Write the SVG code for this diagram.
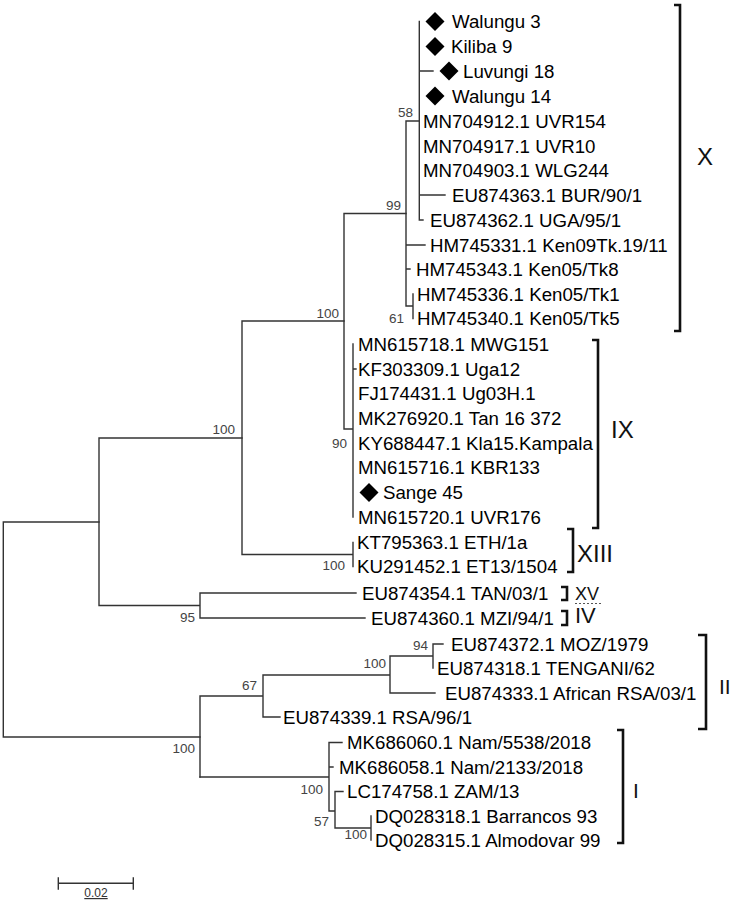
<svg xmlns="http://www.w3.org/2000/svg" width="733" height="904" viewBox="0 0 733 904">
<defs>
<style>
.br{fill:none;stroke:#333;stroke-width:1.4;stroke-linecap:square}
.lf{font-family:"Liberation Sans",Arial,sans-serif;font-size:18.7px;fill:#000}
.bs{font-family:"Liberation Sans",Arial,sans-serif;font-size:13.5px;fill:#444;text-anchor:end}
.cl{font-family:"Liberation Sans",Arial,sans-serif;fill:#111}
.bk{fill:none;stroke:#111;stroke-width:2.6}
.dm{fill:#000}
</style>
<path id="dia" d="M0,-9.5 L9.5,0 L0,9.5 L-9.5,0Z"/>
</defs>
<rect width="733" height="904" fill="#fff"/>

<g id="connectors" class="br">
<path d="M419.3,21.5 V220 H423 M419.3,71 H433 M419.3,195 H445 M406,121 H419.3 M406,121 V306 M406,245 H425 M406,269 H410 M406,306 H413 M413,294 V318.5"/>
<path d="M344,213.5 H406 M344,213.5 V429 H353 M353,344 V517 M353,369 H356"/>
<path d="M242,321 H344 M242,321 V554.5 H353 M353,542.5 V566.5"/>
<path d="M99,438 H242 M99,438 V605.5 H200 M200,593 V618 M200,593 H356 M200,618 H365"/>
<path d="M3.3,522 H99 M3.3,522 V737 H200"/>
<path d="M200,696 V777 M200,696 H263 M263,675 V717 H280 M263,675 H390 M390,656 V693 H435 M390,656 H433 M433,644 V668 M433,644 H443"/>
<path d="M200,777 H329 M329,742.5 V811 H335 M329,742.5 H342 M329,767 H333 M335,791.5 V828 M335,791.5 H343 M335,828 H371 M371,816 V840"/>
</g>

<g id="leaves" class="lf">
<g id="walungu3"><use href="#dia" x="435" y="21.5" class="dm"/><text x="452" y="28.3">Walungu 3</text></g>
<g id="kiliba9"><use href="#dia" x="435" y="46.5" class="dm"/><text x="451" y="53.3">Kiliba 9</text></g>
<g id="luvungi18"><use href="#dia" x="449" y="71" class="dm"/><text x="463" y="77.8">Luvungi 18</text></g>
<g id="walungu14"><use href="#dia" x="435" y="96" class="dm"/><text x="452" y="102.8">Walungu 14</text></g>
<g id="MN704912"><text x="423" y="127.8">MN704912.1 UVR154</text></g>
<g id="MN704917"><text x="423" y="152.8">MN704917.1 UVR10</text></g>
<g id="MN704903"><text x="423" y="177.3">MN704903.1 WLG244</text></g>
<g id="EU874363"><text x="452" y="201.8">EU874363.1 BUR/90/1</text></g>
<g id="EU874362"><text x="430" y="226.8">EU874362.1 UGA/95/1</text></g>
<g id="HM745331"><text x="430" y="251.8">HM745331.1 Ken09Tk.19/11</text></g>
<g id="HM745343"><text x="416" y="275.8">HM745343.1 Ken05/Tk8</text></g>
<g id="HM745336"><text x="417" y="300.8">HM745336.1 Ken05/Tk1</text></g>
<g id="HM745340"><text x="417" y="325.3">HM745340.1 Ken05/Tk5</text></g>
<g id="MN615718"><text x="358" y="350.8">MN615718.1 MWG151</text></g>
<g id="KF303309"><text x="358" y="375.8">KF303309.1 Uga12</text></g>
<g id="FJ174431"><text x="358" y="400.3">FJ174431.1 Ug03H.1</text></g>
<g id="MK276920"><text x="358" y="424.8">MK276920.1 Tan 16 372</text></g>
<g id="KY688447"><text x="358" y="449.8">KY688447.1 Kla15.Kampala</text></g>
<g id="MN615716"><text x="358" y="474.3">MN615716.1 KBR133</text></g>
<g id="sange45"><use href="#dia" x="369" y="492.5" class="dm"/><text x="383" y="499.3">Sange 45</text></g>
<g id="MN615720"><text x="358" y="523.8">MN615720.1 UVR176</text></g>
<g id="KT795363"><text x="357" y="549.3">KT795363.1 ETH/1a</text></g>
<g id="KU291452"><text x="357" y="573.3">KU291452.1 ET13/1504</text></g>
<g id="EU874354"><text x="362" y="599.8">EU874354.1 TAN/03/1</text></g>
<g id="EU874360"><text x="371" y="624.8">EU874360.1 MZI/94/1</text></g>
<g id="EU874372"><text x="451" y="650.8">EU874372.1 MOZ/1979</text></g>
<g id="EU874318"><text x="437" y="674.8">EU874318.1 TENGANI/62</text></g>
<g id="EU874333"><text x="445" y="699.8">EU874333.1 African RSA/03/1</text></g>
<g id="EU874339"><text x="283" y="723.8">EU874339.1 RSA/96/1</text></g>
<g id="MK686060"><text x="347" y="749.3">MK686060.1 Nam/5538/2018</text></g>
<g id="MK686058"><text x="339" y="773.8">MK686058.1 Nam/2133/2018</text></g>
<g id="LC174758"><text x="347" y="798.3">LC174758.1 ZAM/13</text></g>
<g id="DQ028318"><text x="375" y="822.8">DQ028318.1 Barrancos 93</text></g>
<g id="DQ028315"><text x="375" y="846.8">DQ028315.1 Almodovar 99</text></g>
</g>

<g id="bootstrap" class="bs">
<text x="413" y="117">58</text>
<text x="401" y="210">99</text>
<text x="404" y="323">61</text>
<text x="339" y="318">100</text>
<text x="347" y="448">90</text>
<text x="345" y="570">100</text>
<text x="235" y="434">100</text>
<text x="195" y="622">95</text>
<text x="257" y="690">67</text>
<text x="195" y="753">100</text>
<text x="386" y="668">100</text>
<text x="428" y="650">94</text>
<text x="323" y="794">100</text>
<text x="329" y="826">57</text>
<text x="367" y="839">100</text>
</g>

<g id="clade-X"><path class="bk" d="M674,5 H680 V331 H674"/><text class="cl" x="697" y="165" font-size="24">X</text></g>
<g id="clade-IX"><path class="bk" d="M592,340 H598 V528 H592"/><text class="cl" x="611" y="438" font-size="24">IX</text></g>
<g id="clade-XIII"><path class="bk" d="M567,529 H573 V572 H567"/><text class="cl" x="577" y="562" font-size="24">XIII</text></g>
<g id="clade-XV"><path class="bk" d="M561,587 H567 V600 H561" stroke-width="3"/><text class="cl" x="575" y="600" font-size="18">XV</text><path d="M575,603.5 H602" stroke="#555" stroke-width="1" stroke-dasharray="2,2"/></g>
<g id="clade-IV"><path class="bk" d="M561,611 H567 V625 H561" stroke-width="3"/><text class="cl" x="575" y="623" font-size="22">IV</text></g>
<g id="clade-II"><path class="bk" d="M698,635 H706 V729 H698"/><text class="cl" x="719" y="694" font-size="21">II</text></g>
<g id="clade-I"><path class="bk" d="M617,730 H623 V843 H617"/><text class="cl" x="633" y="798" font-size="21">I</text></g>

<g id="scalebar">
<path class="br" d="M58.3,883.3 H133.3 M58.3,878 V889 M133.3,878 V889"/>
<text x="96" y="897" text-anchor="middle" font-family="'Liberation Sans',Arial,sans-serif" font-size="12" fill="#333" text-decoration="underline">0.02</text>
</g>
</svg>
